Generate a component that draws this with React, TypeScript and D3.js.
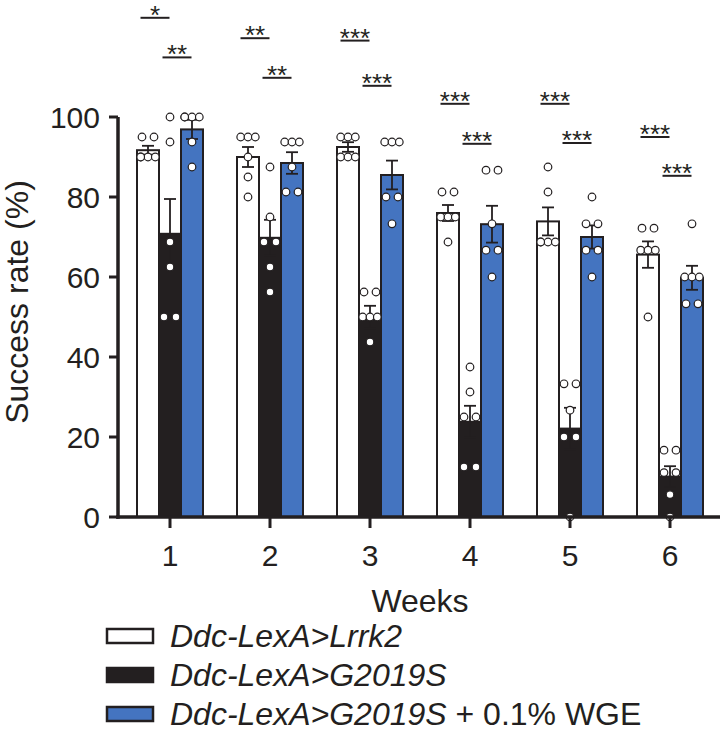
import React from "react";
import * as d3 from "d3";

const weeks = ["1", "2", "3", "4", "5", "6"];
const seriesNames = ["Lrrk2", "G2019S", "WGE"];

const meanLrrk2 = [91.7, 90.0, 92.5, 76.0, 73.9, 65.6];
const semLrrk2 = [1.1, 2.5, 1.2, 2.0, 3.5, 3.3];
const meanG2019S = [70.8, 69.8, 50.0, 23.8, 22.1, 10.1];
const semG2019S = [8.7, 4.5, 2.8, 4.0, 5.2, 2.6];
const meanWGE = [96.9, 88.5, 85.5, 73.2, 70.0, 59.8];
const semWGE = [2.4, 2.7, 3.6, 4.6, 2.9, 3.0];

const ptsLrrk2 = [
  [95, 95, 90, 90, 90, 90],
  [95, 95, 95, 90, 85, 80],
  [95, 95, 95, 90, 90, 90],
  [81.25, 81.25, 75, 75, 75, 68.75],
  [87.5, 81.25, 68.75, 68.75, 68.75, 68.75],
  [72.2, 72.2, 66.7, 66.7, 66.7, 50],
];
const ptsG2019S = [
  [100, 93.75, 68.75, 62.5, 50, 50],
  [87.5, 75, 68.75, 68.75, 62.5, 56.25],
  [56.25, 56.25, 50, 50, 50, 43.75],
  [37.5, 31.25, 25, 25, 12.5, 12.5],
  [33.3, 33.3, 26.7, 20, 20, 0],
  [16.7, 16.7, 11.1, 11.1, 5.6, 0],
];
const ptsWGE = [
  [100, 100, 100, 100, 93.75, 87.5],
  [93.75, 93.75, 93.75, 87.5, 81.25, 81.25],
  [93.75, 93.75, 93.75, 80, 80, 73.3],
  [86.7, 86.7, 73.3, 66.7, 66.7, 60],
  [80, 73.3, 73.3, 66.7, 66.7, 60],
  [73.3, 60, 60, 60, 53.3, 53.3],
];

const yTicks = [0, 20, 40, 60, 80, 100];

// significance: Lrrk2 vs G2019S, G2019S vs G2019S + WGE
const sigLabels1 = ["*", "**", "***", "***", "***", "***"];
const sigLevel1 = [124.8, 119.7, 119.1, 103.3, 103.3, 95.0];
const sigLabels2 = ["**", "**", "***", "***", "***", "***"];
const sigLevel2 = [114.9, 109.8, 107.8, 93.3, 93.5, 85.3];

const legendLabels = [
  ["Ddc-LexA>Lrrk2", ""],
  ["Ddc-LexA>G2019S", ""],
  ["Ddc-LexA>G2019S", " + 0.1% WGE"],
];

const FONT = "'Liberation Sans', Arial, Helvetica, sans-serif";
const DARK = "#231f20";
const fills = ["#ffffff", "#231f20", "#4474c0"];

function spread(vals: number[], r: number) {
  // group overlapping points and spread them horizontally
  const sorted = vals.map((v, i) => ({ v, i })).sort((a, b) => b.v - a.v);
  const out: { v: number; dx: number }[] = [];
  let cluster: { v: number; i: number }[] = [];
  const flush = () => {
    const k = cluster.length;
    cluster.forEach((p, j) => {
      let dx = 0;
      if (k === 2) dx = j === 0 ? -6 : 6;
      else if (k >= 3) dx = [-7.3, 0, 7.3][j % 3];
      out.push({ v: p.v, dx });
    });
    cluster = [];
  };
  sorted.forEach((p) => {
    if (cluster.length && Math.abs(cluster[0].v - p.v) > r) flush();
    cluster.push(p);
  });
  flush();
  return out;
}

export default function App() {
  const W = 721, H = 732;
  const axisX = 118;
  const y = d3.scaleLinear().domain([0, 100]).range([517, 117]);
  const x = d3.scalePoint().domain(weeks).range([120, 720]).padding(0.5);
  const inner = d3.scaleBand().domain(seriesNames).range([-33, 33]);
  const bw = inner.bandwidth();

  const means = [meanLrrk2, meanG2019S, meanWGE];
  const sems = [semLrrk2, semG2019S, semWGE];
  const pts = [ptsLrrk2, ptsG2019S, ptsWGE];

  return (
    <svg width={W} height={H} style={{ position: "absolute", left: 0, top: 0 }} fontFamily={FONT}>
      <rect width={W} height={H} fill="#fff" />
      {/* bars */}
      {weeks.map((wk, wi) =>
        seriesNames.map((s, si) => {
          const x0 = (x(wk) as number) + (inner(s) as number);
          const m = means[si][wi];
          return (
            <rect key={wk + s} x={x0} y={y(m)} width={bw} height={y(0) - y(m)}
              fill={fills[si]} stroke={DARK} strokeWidth={2} />
          );
        })
      )}
      {/* error bars */}
      {weeks.map((wk, wi) =>
        seriesNames.map((s, si) => {
          const cx = (x(wk) as number) + (inner(s) as number) + bw / 2;
          const m = means[si][wi], e = sems[si][wi];
          return (
            <g key={"e" + wk + s} stroke={DARK} strokeWidth={1.8}>
              <line x1={cx} x2={cx} y1={y(m - e)} y2={y(m + e)} />
              <line x1={cx - 6} x2={cx + 6} y1={y(m + e)} y2={y(m + e)} />
              <line x1={cx - 6} x2={cx + 6} y1={y(m - e)} y2={y(m - e)} />
            </g>
          );
        })
      )}
      {/* points */}
      {weeks.map((wk, wi) =>
        seriesNames.map((s, si) => {
          const cx = (x(wk) as number) + (inner(s) as number) + bw / 2;
          return spread(pts[si][wi], 1.7).map((p, k) => (
            <circle key={"p" + wk + s + k} cx={cx + p.dx} cy={y(p.v)} r={3.8}
              fill="#fff" stroke={DARK} strokeWidth={1.2} />
          ));
        })
      )}
      {/* axes */}
      <line x1={axisX} x2={axisX} y1={y(100)} y2={y(0) + 1.75} stroke={DARK} strokeWidth={3.5} />
      <line x1={axisX - 1.75} x2={720} y1={y(0)} y2={y(0)} stroke={DARK} strokeWidth={3.5} />
      {yTicks.map((t) => (
        <g key={"yt" + t}>
          <line x1={axisX - 9} x2={axisX} y1={y(t)} y2={y(t)} stroke={DARK} strokeWidth={3} />
          <text x={100} y={y(t) + 11} textAnchor="end" fontSize={30} fill={DARK}>{t}</text>
        </g>
      ))}
      {weeks.map((wk) => (
        <g key={"xt" + wk}>
          <line x1={x(wk)} x2={x(wk)} y1={y(0)} y2={y(0) + 11} stroke={DARK} strokeWidth={3} />
          <text x={x(wk)} y={566} textAnchor="middle" fontSize={30} fill={DARK}>{wk}</text>
        </g>
      ))}
      <text x={(x("3") as number) + 50} y={612} textAnchor="middle" fontSize={32} fill={DARK}>Weeks</text>
      <text transform={`translate(28,302) rotate(-90)`} textAnchor="middle" fontSize={32} fill={DARK}>
        Success rate (%)
      </text>
      {/* significance */}
      {weeks.map((wk, wi) => {
        const c1 = (x(wk) as number) - 15;
        const c2 = (x(wk) as number) + 7;
        return (
          <g key={"s" + wk}>
            <line x1={c1 - 14.5} x2={c1 + 14.5} y1={y(sigLevel1[wi])} y2={y(sigLevel1[wi])} stroke={DARK} strokeWidth={2} />
            <text x={c1} y={y(sigLevel1[wi]) + 6} textAnchor="middle" fontSize={26} fill={DARK}>{sigLabels1[wi]}</text>
            <line x1={c2 - 14.5} x2={c2 + 14.5} y1={y(sigLevel2[wi])} y2={y(sigLevel2[wi])} stroke={DARK} strokeWidth={2} />
            <text x={c2} y={y(sigLevel2[wi]) + 6} textAnchor="middle" fontSize={26} fill={DARK}>{sigLabels2[wi]}</text>
          </g>
        );
      })}
      {/* legend */}
      {legendLabels.map((lab, i) => {
        const cy = 636 + i * 39;
        return (
          <g key={"lg" + i}>
            <rect x={107} y={cy - 7} width={46} height={14} fill={fills[i]} stroke={DARK} strokeWidth={2.5} />
            <text x={170} y={cy + 11} fontSize={32} fill={DARK}>
              <tspan fontStyle="italic">{lab[0]}</tspan>
              {lab[1] ? <tspan>{lab[1]}</tspan> : null}
            </text>
          </g>
        );
      })}
    </svg>
  );
}
